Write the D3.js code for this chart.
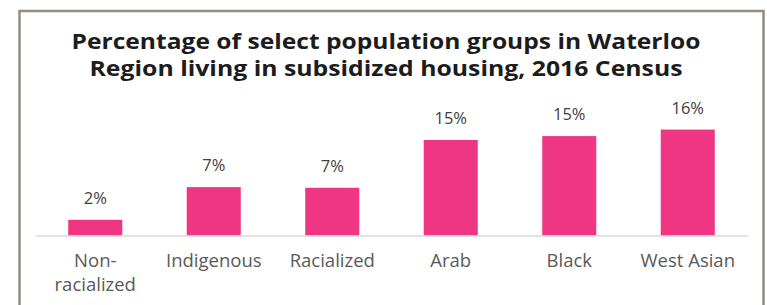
<!DOCTYPE html>
<html>
<head>
<meta charset="utf-8">
<script src="https://cdn.jsdelivr.net/npm/d3@7"></script>
<style>
  body { margin: 0; background: #fff; }
  text { font-family: "Open Sans", "Noto Sans", sans-serif; }
</style>
</head>
<body>
<script>
// data
var categories = ["Non-racialized", "Indigenous", "Racialized", "Arab", "Black", "West Asian"];
var tickLines = [["Non-", "racialized"], ["Indigenous"], ["Racialized"], ["Arab"], ["Black"], ["West Asian"]];
var values = [2.4, 7.4, 7.3, 14.6, 15.2, 16.2];
var titleLines = ["Percentage of select population groups in Waterloo",
                  "Region living in subsidized housing, 2016 Census"];

var W = 767, H = 305;
var svg = d3.select("body").append("svg")
    .attr("width", W)
    .attr("height", H);

// frame around the chart
svg.append("rect")
    .attr("x", 19.5).attr("y", 11)
    .attr("width", 744).attr("height", 320)
    .attr("fill", "#fff")
    .attr("stroke", "#948a87")
    .attr("stroke-width", 2.5);

// title
var title = svg.append("g").attr("class", "title");
title.selectAll("text")
    .data(titleLines)
    .enter().append("text")
    .attr("x", 386)
    .attr("y", function(d, i) { return 48.5 + i * 27.5; })
    .attr("text-anchor", "middle")
    .attr("font-size", 21)
    .attr("font-weight", "bold")
    .attr("fill", "#1c1c1c")
    .attr("textLength", function(d, i) { return i == 0 ? 629 : 593; })
    .attr("lengthAdjust", "spacingAndGlyphs")
    .text(function(d) { return d; });

var baseY = 235.5;
var x = d3.scaleBand().domain(categories).range([36, 747]).paddingInner(0.544).paddingOuter(0.272);
var y = d3.scaleLinear().domain([0, 18]).range([baseY, baseY - 18 * 6.54]);

// bars
svg.selectAll(".bar")
    .data(values)
    .enter().append("rect")
    .attr("class", "bar")
    .attr("x", function(d, i) { return x(categories[i]); })
    .attr("y", function(d) { return y(d); })
    .attr("width", x.bandwidth())
    .attr("height", function(d) { return baseY - y(d); })
    .attr("fill", "#ee3682");

// value labels
svg.selectAll(".val")
    .data(values)
    .enter().append("text")
    .attr("class", "val")
    .attr("x", function(d, i) { return x(categories[i]) + x.bandwidth() / 2; })
    .attr("y", function(d) { return y(d) - 16; })
    .attr("text-anchor", "middle")
    .attr("font-size", 16.5)
    .attr("fill", "#404040")
    .text(function(d) { return Math.round(d) + "%"; });

// x axis
var axis = svg.append("g")
    .attr("transform", "translate(0," + baseY + ")")
    .call(d3.axisBottom(x).tickSize(0).tickFormat(""));
axis.select(".domain").attr("stroke", "#d9d9d9").attr("stroke-width", 1.5);

axis.selectAll(".tick text").remove();
axis.selectAll(".tick").each(function(d, i) {
    var tick = d3.select(this);
    tickLines[i].forEach(function(line, j) {
        tick.append("text")
            .attr("fill", "#595959")
            .attr("font-size", 18.5)
            .attr("text-anchor", "middle")
            .attr("x", 0)
            .attr("y", 31.5 + j * 23.5)
            .text(line);
    });
});
</script>
</body>
</html>
